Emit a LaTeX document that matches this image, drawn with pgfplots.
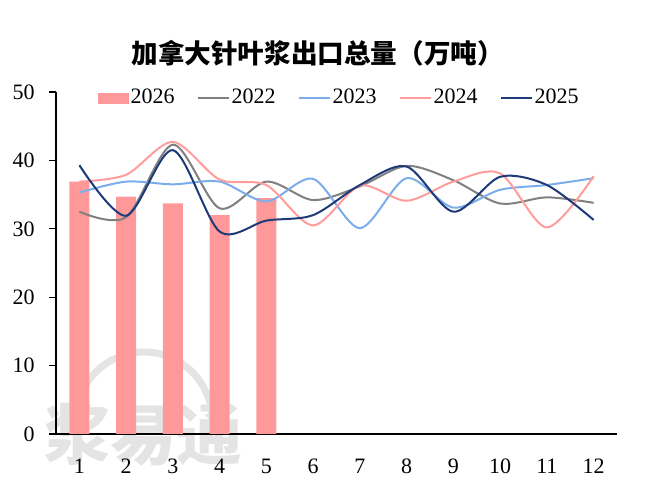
\documentclass[border=0pt]{standalone}
\usepackage{pgfplots}
\pgfplotsset{compat=1.18}
\usepackage{fontspec}
\setmainfont{Liberation Serif}
\newfontfamily\cjk{Noto Sans CJK SC}
\definecolor{barpink}{HTML}{FF9999}
\definecolor{linepink}{HTML}{FF9C9C}
\definecolor{cgray}{HTML}{808080}
\definecolor{cblue}{HTML}{7BADEB}
\definecolor{cnavy}{HTML}{1E3A78}
\definecolor{wm}{HTML}{E4E4E4}
\begin{document}
\begin{tikzpicture}
\path[use as bounding box] (0,0) rectangle (324.5bp,248bp);
% watermark
\draw[wm, line width=3.5bp] (72bp,38bp) ++(200:34bp) arc (200:-15:34bp);
\node[wm, font=\cjk\bfseries\fontsize{33bp}{35bp}\selectfont, inner sep=0pt] at (71.5bp,31bp) {浆易通};
\node[font=\cjk\bfseries\fontsize{13.3bp}{15bp}\selectfont, inner sep=0pt] at (158.8bp,221.5bp) {加拿大针叶浆出口总量（万吨）};
\begin{axis}[
  at={(28bp,31bp)}, anchor=south west,
  width=280.5bp, height=171bp, scale only axis,
  xmin=0.5, xmax=12.5, ymin=0, ymax=50,
  axis lines=left, axis line style={-, black, line width=0.6bp},
  xtick={1,...,12}, xtick style={draw=none},
  minor xtick={0.5,1.5,...,12.5},
  ytick={0,10,...,50},
  tick align=outside,
  major tick length=3.5bp, minor tick length=3.5bp,
  tick style={black, line width=0.6bp},
  every minor tick/.style={black, line width=0.6bp},
  /pgf/number format/assume math mode=true,
  tick label style={font=\fontsize{11bp}{13bp}\selectfont, inner sep=0pt},
  yticklabel style={anchor=east, xshift=-7bp},
  xticklabel style={anchor=base, yshift=-16.5bp},
  legend columns=5,
  legend style={draw=none, fill=none, at={(0.5045,0.982)}, anchor=center,
    font=\fontsize{11bp}{13bp}\selectfont,
    nodes={inner sep=0.75bp},
    /tikz/every even column/.append style={column sep=10.5bp},
    /tikz/every odd column/.append style={column sep=0bp}},
  legend image code/.code={\draw[#1, line width=1bp] (0bp,0bp) -- (15.5bp,0bp);},
]
\addplot[ybar, bar width=10bp, fill=barpink, draw=none,
  legend image code/.code={\fill[barpink] (0bp,-2.75bp) rectangle (15.5bp,2.75bp);}]
  coordinates {(1,36.9) (2,34.7) (3,33.7) (4,32.0) (5,34.5)};
\addlegendentry{2026}
\addplot[smooth, no marks, cgray, line width=1bp] coordinates {
(1,32.5) (2,31.7) (3,42.3) (4,33.0) (5,36.9) (6,34.2) (7,36.2) (8,39.2) (9,37.1) (10,33.7) (11,34.6) (12,33.8)};
\addlegendentry{2022}
\addplot[smooth, no marks, cblue, line width=1bp] coordinates {
(1,35.3) (2,36.9) (3,36.5) (4,36.9) (5,34.0) (6,37.3) (7,30.1) (8,37.4) (9,33.1) (10,35.7) (11,36.4) (12,37.4)};
\addlegendentry{2023}
\addplot[smooth, no marks, linepink, line width=1bp] coordinates {
(1,36.9) (2,37.9) (3,42.7) (4,37.2) (5,36.4) (6,30.5) (7,36.3) (8,34.1) (9,36.9) (10,38.1) (11,30.2) (12,37.7)};
\addlegendentry{2024}
\addplot[smooth, no marks, cnavy, line width=1bp] coordinates {
(1,39.3) (2,31.9) (3,41.5) (4,29.6) (5,31.2) (6,32.0) (7,36.4) (8,39.1) (9,32.5) (10,37.6) (11,36.4) (12,31.3)};
\addlegendentry{2025}
\end{axis}
\end{tikzpicture}
\end{document}
